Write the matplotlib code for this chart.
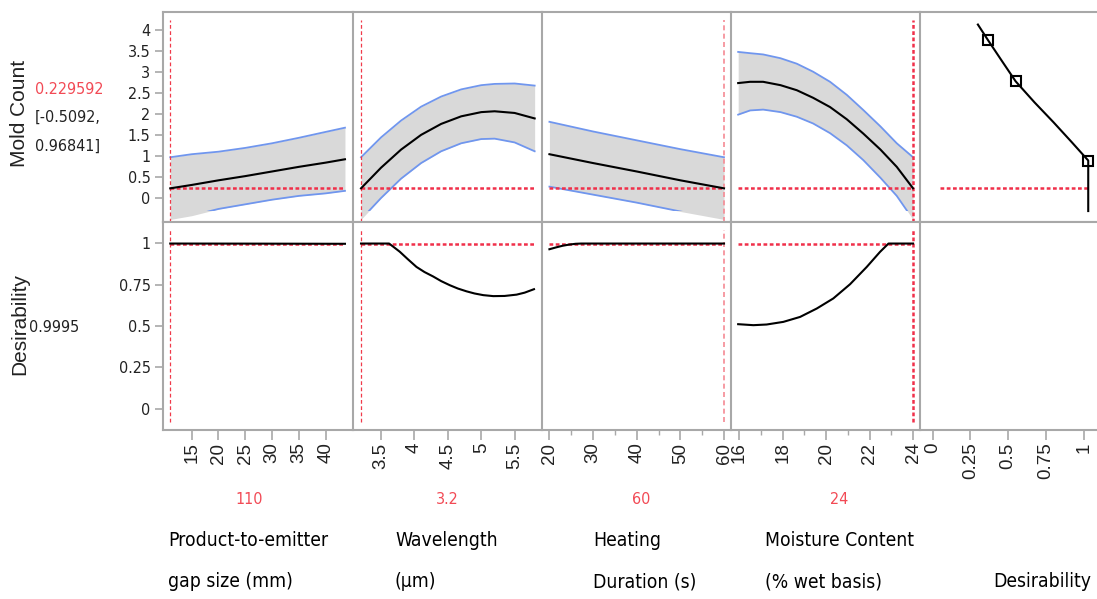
import matplotlib.pyplot as plt
from matplotlib import font_manager
from matplotlib.patches import Rectangle
from matplotlib.transforms import blended_transform_factory

# Current prediction at the chosen settings
mold_now = 0.229592
mold_lo, mold_hi = -0.5092, 0.96841
desir_now = 0.9995

# Product-to-emitter gap size (mm)
gap_x = [11.0, 15, 20, 25, 30, 35, 40, 43.6]
gap_mold = [0.2296, 0.31, 0.42, 0.52, 0.63, 0.74, 0.84, 0.92]
gap_upper = [0.968, 1.04, 1.10, 1.19, 1.30, 1.43, 1.57, 1.67]
gap_lower = [-0.509, -0.42, -0.26, -0.15, -0.04, 0.05, 0.11, 0.17]
gap_dx = [11.0, 25, 43.6]
gap_desir = [0.9995, 0.999, 0.998]

# Wavelength (um)
wave_x = [3.2, 3.5, 3.8, 4.1, 4.4, 4.7, 5.0, 5.2, 5.5, 5.8]
wave_mold = [0.2296, 0.72, 1.15, 1.50, 1.76, 1.94, 2.04, 2.06, 2.02, 1.89]
wave_upper = [0.968, 1.44, 1.84, 2.17, 2.41, 2.58, 2.68, 2.71, 2.72, 2.67]
wave_lower = [-0.509, 0.00, 0.46, 0.83, 1.11, 1.30, 1.40, 1.41, 1.32, 1.11]
wave_dx = [3.2, 3.62, 3.7, 3.78, 3.9, 4.03, 4.15, 4.28, 4.4, 4.53, 4.65, 4.78,
           4.9, 5.03, 5.18, 5.35, 5.53, 5.65, 5.79]
wave_desir = [0.9995, 0.9995, 0.975, 0.95, 0.905, 0.858, 0.827, 0.80, 0.772, 0.747,
              0.727, 0.71, 0.697, 0.687, 0.681, 0.682, 0.69, 0.702, 0.723]

# Heating duration (s)
heat_x = [20, 30, 40, 50, 60]
heat_mold = [1.04, 0.83, 0.63, 0.42, 0.2296]
heat_upper = [1.81, 1.58, 1.37, 1.16, 0.968]
heat_lower = [0.27, 0.08, -0.11, -0.32, -0.509]
heat_dx = [20, 21.5, 23, 24.5, 26, 27.3, 60]
heat_desir = [0.965, 0.976, 0.986, 0.993, 0.998, 0.9995, 0.9995]

# Moisture content (% wet basis)
moist_x = [15.95, 16.5, 17.1, 17.9, 18.65, 19.4, 20.18, 20.95, 21.71, 22.5, 23.25, 24.0]
moist_mold = [2.73, 2.76, 2.76, 2.68, 2.56, 2.38, 2.16, 1.87, 1.53, 1.15, 0.74, 0.2296]
moist_upper = [3.47, 3.44, 3.41, 3.32, 3.19, 3.00, 2.76, 2.45, 2.09, 1.70, 1.30, 0.968]
moist_lower = [1.98, 2.08, 2.10, 2.04, 1.93, 1.77, 1.54, 1.25, 0.90, 0.48, 0.05, -0.509]
moist_dx = [15.95, 16.65, 17.26, 18.03, 18.8, 19.57, 20.33, 21.1, 21.87, 22.48, 22.87, 24.0]
moist_desir = [0.511, 0.505, 0.509, 0.525, 0.555, 0.606, 0.667, 0.753, 0.858, 0.949,
               0.9995, 0.9995]

# Desirability function for mold count
desir_x = [0.30, 0.365, 0.457, 0.55, 0.675, 0.80, 0.92, 1.03, 1.03]
desir_mold = [4.12, 3.76, 3.265, 2.77, 2.27, 1.80, 1.33, 0.89, -0.31]
knot_x = [0.365, 0.55, 1.03]
knot_mold = [3.76, 2.77, 0.89]

factor_names = ['Product-to-emitter\ngap size (mm)', 'Wavelength\n(\u00b5m)',
                'Heating\nDuration (s)', 'Moisture Content\n(% wet basis)']
factor_now = [11.0, 3.2, 60, 24]
factor_now_text = ['110', '3.2', '60', '24']
factor_ticks = [[15, 20, 25, 30, 35, 40],
                [3.5, 4, 4.5, 5, 5.5],
                [20, 30, 40, 50, 60],
                [16, 18, 20, 22, 24]]
factor_tick_labels = [['15', '20', '25', '30', '35', '40'],
                      ['3.5', '4', '4.5', '5', '5.5'],
                      ['20', '30', '40', '50', '60'],
                      ['16', '18', '20', '22', '24']]
factor_minor = [[], [], [25, 35, 45, 55], [17, 19, 21, 23]]
factor_xlim = [(9.65, 45.1), (3.08, 5.91), (18.3, 61.6), (15.62, 24.32)]

mold_ticks = [0, 0.5, 1, 1.5, 2, 2.5, 3, 3.5, 4]
mold_tick_labels = ['0', '0.5', '1', '1.5', '2', '2.5', '3', '3.5', '4']
desir_ticks = [0, 0.25, 0.5, 0.75, 1]
desir_tick_labels = ['0', '0.25', '0.5', '0.75', '1']

profiles = [
    (gap_x, gap_mold, gap_upper, gap_lower, gap_dx, gap_desir),
    (wave_x, wave_mold, wave_upper, wave_lower, wave_dx, wave_desir),
    (heat_x, heat_mold, heat_upper, heat_lower, heat_dx, heat_desir),
    (moist_x, moist_mold, moist_upper, moist_lower, moist_dx, moist_desir),
]
# (linewidth, dash pattern, colour) of the vertical marker for the current setting
marker_styles = [(0.9, (3, 2), '#f03a4a'), (0.9, (3, 2), '#f03a4a'),
                 (1.2, (3, 2), '#f58a94'), (1.8, (1.5, 1), '#f0304a')]


def find_condensed():
    """Look for an installed narrow sans face, else fall back to Liberation Sans."""
    for f in font_manager.fontManager.ttflist:
        low = f.name.lower()
        narrow = 'narrow' in low or 'condensed' in low or f.stretch != 'normal'
        if (narrow and 'mono' not in low and 'serif' not in low
                and f.style == 'normal' and f.weight in (400, 'normal', 'regular')):
            return f.name, f.stretch
    return 'Liberation Sans', 'normal'


narrow_name, narrow_stretch = find_condensed()
plt.rcParams['font.family'] = [narrow_name, 'DejaVu Sans']
plt.rcParams['font.stretch'] = narrow_stretch
regular = dict(family=['Liberation Sans', 'DejaVu Sans'], fontstretch='normal')

W, H = 1097, 599
col_edges = [163, 353, 542, 731, 920, 1097]
row_edges = [11.5, 222, 430]
mold_lim = (-0.57, 4.43)
desir_lim = (-0.13, 1.13)
ci_clip = -0.31
spine_col = '#a8a8a8'
red = '#f0304a'
red_text = '#f24a55'
text_col = '#222222'
blue = '#7096ee'
band = '#d9d9d9'

fig = plt.figure(figsize=(W / 100, H / 100), dpi=100)
renderer = fig.canvas.get_renderer()


def fit_width(texts, widest, max_px):
    """Shrink a group of texts so that `widest` is at most max_px wide."""
    w = widest.get_window_extent(renderer).width
    if w > max_px:
        size = widest.get_fontsize() * max_px / w
        for t in texts:
            t.set_fontsize(size)


# y tick label size: "0.75" should fit in about 32 px
probe = fig.text(0, 0, '0.75', fontsize=14.5)
fit_width([probe], probe, 32)
ytick_size = probe.get_fontsize()
probe.remove()


def panel(col, row):
    x0, x1 = col_edges[col], col_edges[col + 1]
    y0, y1 = row_edges[row], row_edges[row + 1]
    ax = fig.add_axes([x0 / W, 1 - y1 / H, (x1 - x0) / W, (y1 - y0) / H])
    ax.spines['right'].set_visible(False)
    for s in ('left', 'top', 'bottom'):
        ax.spines[s].set_color(spine_col)
        ax.spines[s].set_linewidth(1.5)
    ax.tick_params(which='both', color=spine_col, labelcolor=text_col)
    ax.set_ylim(mold_lim if row == 0 else desir_lim)
    if col == 0:
        ax.set_yticks(mold_ticks if row == 0 else desir_ticks,
                      mold_tick_labels if row == 0 else desir_tick_labels)
        ax.tick_params(axis='y', length=6, width=1.2, pad=3, labelsize=ytick_size)
    else:
        ax.tick_params(axis='y', left=False, labelleft=False)
    if row == 0:
        ax.tick_params(axis='x', bottom=False, labelbottom=False)
    else:
        ax.tick_params(axis='x', which='major', length=7, width=1.2, pad=2)
        ax.tick_params(axis='x', which='minor', length=3.5, width=1.0)
    return ax


def x_labels(ax, ticks, labels):
    ax.set_xticks(ticks, labels, rotation=90, fontsize=13.5, **regular)


for i, (fx, fm, fu, fl, dx, dd) in enumerate(profiles):
    lw, dash, vcol = marker_styles[i]
    top = panel(i, 0)
    bot = panel(i, 1)
    for ax in (top, bot):
        ax.set_xlim(factor_xlim[i])

    # predicted mold count with confidence band
    top.fill_between(fx, fl, fu, color=band, lw=0, zorder=1)
    clip = Rectangle((0, ci_clip), 1, 10,
                     transform=blended_transform_factory(top.transAxes, top.transData))
    for edge in (fu, fl):
        line, = top.plot(fx, edge, color=blue, lw=1.3, zorder=2)
        line.set_clip_path(clip)
    top.plot([fx[0], fx[-1]], [mold_now, mold_now], color=red, lw=1.8,
             ls=(0, (1.5, 1)), zorder=3)
    top.plot([factor_now[i]] * 2, [mold_lim[0], 4.22], color=vcol, lw=lw,
             ls=(0, dash), zorder=3)
    top.plot(fx, fm, color='black', lw=1.5, zorder=4)

    # desirability trace
    bot.plot([dx[0], dx[-1]], [desir_now, desir_now], color=red, lw=1.8,
             ls=(0, (1.5, 1)), zorder=3)
    bot.plot([factor_now[i]] * 2, [-0.08, 1.08], color=vcol, lw=lw,
             ls=(0, dash), zorder=3)
    bot.plot(dx, dd, color='black', lw=1.5, zorder=4)
    x_labels(bot, factor_ticks[i], factor_tick_labels[i])
    if factor_minor[i]:
        bot.set_xticks(factor_minor[i], minor=True)

# desirability function column
dtop = panel(4, 0)
dbot = panel(4, 1)
for ax in (dtop, dbot):
    ax.set_xlim(-0.083, 1.088)
dtop.plot([0.05, desir_x[-1]], [mold_now, mold_now], color=red, lw=1.8,
          ls=(0, (1.5, 1)), zorder=3)
dtop.plot(desir_x, desir_mold, color='black', lw=1.5, zorder=4)
dtop.plot(knot_x, knot_mold, 's', ms=6.5, mfc='none', mec='black', mew=1.5, zorder=5)
x_labels(dbot, desir_ticks, desir_tick_labels)

# response labels on the left
fig.text(20 / W, 1 - 113 / H, 'Mold Count', rotation=90, ha='center', va='center',
         fontsize=15, color=text_col, **regular)
fig.text(20 / W, 1 - 324 / H, 'Desirability', rotation=90, ha='center', va='center',
         fontsize=15, color=text_col, **regular)
t_now = fig.text(35 / W, 1 - 89 / H, f'{mold_now:g}', ha='left', va='center',
                 fontsize=15, color=red_text)
t_lo = fig.text(35 / W, 1 - 117 / H, f'[{mold_lo:g},', ha='left', va='center',
                fontsize=15, color=text_col)
t_hi = fig.text(35 / W, 1 - 146 / H, f'{mold_hi:g}]', ha='left', va='center',
                fontsize=15, color=text_col)
t_d = fig.text(29 / W, 1 - 328 / H, f'{desir_now:g}', ha='left', va='center',
               fontsize=15, color=text_col)
fit_width([t_now, t_lo, t_hi, t_d], t_now, 69)

# factor settings and names along the bottom
now_text_x = [249, 447, 641, 839]
name_x = [168, 395, 593, 765]
names = []
for i in range(4):
    fig.text(now_text_x[i] / W, 1 - 499 / H, factor_now_text[i], ha='center',
             va='center', fontsize=11.5, color=red_text)
    line1, line2 = factor_names[i].split('\n')
    names.append(fig.text(name_x[i] / W, 1 - 546 / H, line1, ha='left',
                          va='baseline', fontsize=17.5, color='black'))
    names.append(fig.text(name_x[i] / W, 1 - 587 / H, line2, ha='left',
                          va='baseline', fontsize=17.5, color='black'))
names.append(fig.text(993 / W, 1 - 587 / H, 'Desirability', ha='left', va='baseline',
                      fontsize=17.5, color='black'))
fit_width(names, names[0], 160)

fig.savefig('out.png', dpi=100)
